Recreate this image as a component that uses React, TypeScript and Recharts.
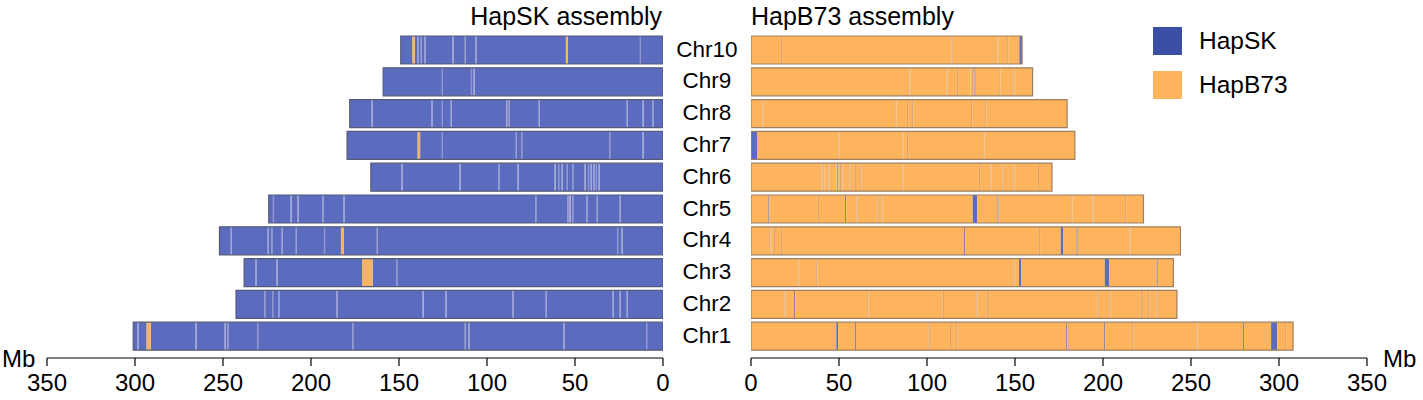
import React from "react"
import { BarChart, Bar, XAxis, YAxis, Cell } from "recharts"

const FONT = '"Liberation Sans", Arial, Helvetica, sans-serif'

// chromosomes, top to bottom
const chromosomes = ["Chr10", "Chr9", "Chr8", "Chr7", "Chr6", "Chr5", "Chr4", "Chr3", "Chr2", "Chr1"]

// assembly lengths in Mb
const skLengths = [149, 159, 178, 179.5, 166, 224, 252, 238, 242.6, 301]
const b73Lengths = [154, 160, 179.6, 184, 171, 223, 244, 240, 242, 308]

const xTicks = [0, 50, 100, 150, 200, 250, 300, 350]

type Stripe = [number, string] | [number, number, string]

// HapSK assembly: thin lines [pos, kind] or blocks [start, end, kind]
const skStripes: Stripe[][] = [
	[[12.5, "l"], [54, 55.2, "o"], [106, "l"], [112, "l"], [119, "l"], [135, "l"], [137, "l"], [139, "l"], [141, 142.5, "o"]],
	[[107, "l"], [108.5, "l"], [125, "l"]],
	[[5.5, "l"], [11, "l"], [20, "l"], [70, "l"], [87, "l"], [88.5, "p"], [120, "l"], [125, "l"], [131, "l"], [165, "l"]],
	[[11, "l"], [30, "l"], [80, "l"], [83, "l"], [125, "l"], [138, 139.5, "o"]],
	[[36, "l"], [37.5, "l"], [39, "l"], [40.5, "l"], [42, "l"], [44, "l"], [51, "l"], [54, "l"], [57, "l"], [59, "l"], [61, "l"], [82, "l"], [93, "l"], [115, "l"], [148, "l"]],
	[[24, "l"], [37, "l"], [43, "l"], [51, "l"], [52.5, "p"], [53.8, "l"], [72, "l"], [181, "l"], [193, "l"], [207, "l"], [211, "l"], [221, "l"]],
	[[23, "l"], [25.5, "l"], [162, "l"], [181.5, 183, "o"], [192, "l"], [208, "l"], [216, "l"], [222, "l"], [224, "l"], [245, "l"]],
	[[151, "l"], [165, 171, "o"], [219, "l"], [231, "l"]],
	[[20, "l"], [24, "l"], [28, "l"], [66, "l"], [85, "l"], [123, "l"], [136, "l"], [185, "l"], [218, "l"], [221.5, "l"], [226, "l"]],
	[[9, "l"], [56, "l"], [110, "l"], [112, "l"], [176, "l"], [230, "l"], [247, "l"], [248.5, "l"], [265, "l"], [291, 293.5, "o"], [298, "l"]],
]

// HapB73 assembly
const b73Stripes: Stripe[][] = [
	[[17, "g"], [114, "g"], [140, "g"], [145.5, "g"], [152.5, 154, "b"]],
	[[90, "g"], [111, "g"], [117, "g"], [124, "g"], [125.5, "g"], [127, "d"], [141, "g"], [149, "g"]],
	[[6.6, "g"], [82, "g"], [88.6, "g"], [91.5, "g"], [125, "g"], [133, "g"]],
	[[0, 3.4, "b"], [49.6, "g"], [86, "g"], [88.6, "g"], [132, "g"]],
	[[40, "g"], [41, "g"], [44, "g"], [48, "g"], [49, "d"], [50.5, "g"], [52, "g"], [56, "g"], [59, "g"], [62, "g"], [86, "g"], [129.5, "g"], [136, "g"], [143, "g"], [149, "g"], [163, "g"]],
	[[9.8, "d"], [38, "g"], [53.4, "d"], [60, "g"], [72, "g"], [74, "g"], [126, 128.5, "b"], [140, "d"], [182, "g"], [194, "g"], [212.5, "g"]],
	[[11, "g"], [13, "g"], [17, "g"], [121, "d"], [163.6, "g"], [176, 177.5, "b"], [185, "d"], [215, "g"]],
	[[27, "g"], [37, "g"], [149, "g"], [152.3, 153.5, "b"], [201, 203.5, "b"], [230.5, "d"]],
	[[19, "g"], [24.4, "d"], [66, "g"], [109, "g"], [128, "g"], [134, "g"], [197, "g"], [203.5, "g"], [221.5, "g"], [225.6, "g"], [230.5, "g"]],
	[[48.5, 49.5, "b"], [59, "d"], [101, "g"], [113, "g"], [116.5, "g"], [179, "d"], [180, "g"], [200.6, "d"], [216.5, "g"], [253, "g"], [279.5, "d"], [295.5, 299, "b"], [303.4, "g"]],
]

const skColors: Record<string, string> = {
	base: "#5b6bbd",
	l: "#9196d2",
	p: "#b3a0c0",
	o: "#f7b365",
}
const b73Colors: Record<string, string> = {
	base: "#feb45c",
	g: "#d9a673",
	d: "#8f8296",
	b: "#5b6bbd",
}

const LINE_W = 0.65

// turn stripe list into consecutive stacked segments
function toSegments(len: number, stripes: Stripe[]) {
	const items = stripes
		.map((s) =>
			s.length === 2
				? { a: s[0], b: s[0] + LINE_W, k: s[1] }
				: { a: s[0], b: s[1], k: s[2] },
		)
		.sort((p, q) => p.a - q.a)
	const segs: { len: number; k: string }[] = []
	let cur = 0
	for (const it of items) {
		const a = Math.max(it.a, cur)
		const b = Math.min(it.b, len)
		if (a > cur) segs.push({ len: a - cur, k: "base" })
		if (b > a) segs.push({ len: b - a, k: it.k })
		cur = Math.max(cur, b)
	}
	if (len > cur) segs.push({ len: len - cur, k: "base" })
	return segs
}

function buildRows(lengths: number[], stripes: Stripe[][]) {
	return chromosomes.map((chr, i) => {
		const row: Record<string, any> = { chr, total: lengths[i] }
		toSegments(lengths[i], stripes[i]).forEach((s, j) => {
			row[`s${j}`] = s.len
			row[`k${j}`] = s.k
		})
		return row
	})
}

const skRows = buildRows(skLengths, skStripes)
const b73Rows = buildRows(b73Lengths, b73Stripes)
const segCount = (rows: Record<string, any>[]) =>
	Math.max(...rows.map((r) => Object.keys(r).filter((k) => /^s\d+$/.test(k)).length))

const ChrTick = (props: any) => {
	const { x, y, payload } = props
	return (
		<text x={x + 44} y={y} dy="0.3em" textAnchor="middle" fontSize={22.5} fill="#000" fontFamily={FONT}>
			{payload.value}
		</text>
	)
}

const CHART_H = 400
const MARGIN_TOP = 28
const PAD = 6

function Panel({
	rows,
	colors,
	outline,
	reversed,
	width,
	margin,
	showLabels,
}: {
	rows: Record<string, any>[]
	colors: Record<string, string>
	outline: string
	reversed: boolean
	width: number
	margin: { top: number; right: number; bottom: number; left: number }
	showLabels: boolean
}) {
	const n = segCount(rows)
	return (
		<BarChart layout="vertical" width={width} height={CHART_H} data={rows} margin={margin} barSize={28}>
			<XAxis
				type="number"
				domain={[0, 350]}
				ticks={xTicks}
				reversed={reversed}
				allowDataOverflow
				height={CHART_H - 358 - margin.bottom}
				tickSize={8}
				tickMargin={8}
				axisLine={{ stroke: "#000", strokeWidth: 1.2 }}
				tickLine={{ stroke: "#000", strokeWidth: 1.2 }}
				tick={{ fontSize: 24, fill: "#000", fontFamily: FONT }}
			/>
			<YAxis
				type="category"
				dataKey="chr"
				orientation="right"
				width={showLabels ? 90 : 0}
				hide={!showLabels}
				axisLine={false}
				tickLine={false}
				tickSize={0}
				tickMargin={0}
				padding={{ top: PAD, bottom: PAD }}
				tick={<ChrTick />}
				interval={0}
			/>
			<YAxis yAxisId="o" type="category" dataKey="chr" hide padding={{ top: PAD, bottom: PAD }} />
			{Array.from({ length: n }, (_, i) => (
				<Bar key={i} dataKey={`s${i}`} stackId="seg" isAnimationActive={false}>
					{rows.map((r, j) => (
						<Cell key={j} fill={r[`k${i}`] ? colors[r[`k${i}`]] : "none"} />
					))}
				</Bar>
			))}
			<Bar
				yAxisId="o"
				dataKey="total"
				fill="none"
				stroke={outline}
				strokeWidth={1.2}
				isAnimationActive={false}
			/>
		</BarChart>
	)
}

const text = (s: React.CSSProperties): React.CSSProperties => ({
	position: "absolute",
	whiteSpace: "nowrap",
	color: "#000",
	lineHeight: 1,
	...s,
})

export default function App() {
	return (
		<div
			style={{
				position: "absolute",
				left: 0,
				top: 0,
				width: 1423,
				height: 400,
				background: "#fff",
				fontFamily: FONT,
				overflow: "hidden",
			}}
		>
			<div style={{ position: "absolute", left: 0, top: 0 }}>
				<Panel
					rows={skRows}
					colors={skColors}
					outline="#565b78"
					reversed
					width={760}
					margin={{ top: MARGIN_TOP, right: 7, bottom: 0, left: 47 }}
					showLabels
				/>
			</div>
			<div style={{ position: "absolute", left: 740, top: 0 }}>
				<Panel
					rows={b73Rows}
					colors={b73Colors}
					outline="#9e8060"
					reversed={false}
					width={683}
					margin={{ top: MARGIN_TOP, right: 56, bottom: 0, left: 11 }}
					showLabels={false}
				/>
			</div>

			<div style={text({ right: 1423 - 662, top: 4, fontSize: 25 })}>HapSK assembly</div>
			<div style={text({ left: 751, top: 4, fontSize: 25 })}>HapB73 assembly</div>

			<div style={text({ left: 2, top: 347, fontSize: 24 })}>Mb</div>
			<div style={text({ left: 1383, top: 347, fontSize: 24 })}>Mb</div>

			<div style={{ position: "absolute", left: 1153, top: 27, width: 29, height: 28, background: "#3b4fa5" }} />
			<div style={{ position: "absolute", left: 1153, top: 71, width: 29, height: 28, background: "#feb45c" }} />
			<div style={text({ left: 1199, top: 29, fontSize: 24.5 })}>HapSK</div>
			<div style={text({ left: 1199, top: 73, fontSize: 24.5 })}>HapB73</div>
		</div>
	)
}
